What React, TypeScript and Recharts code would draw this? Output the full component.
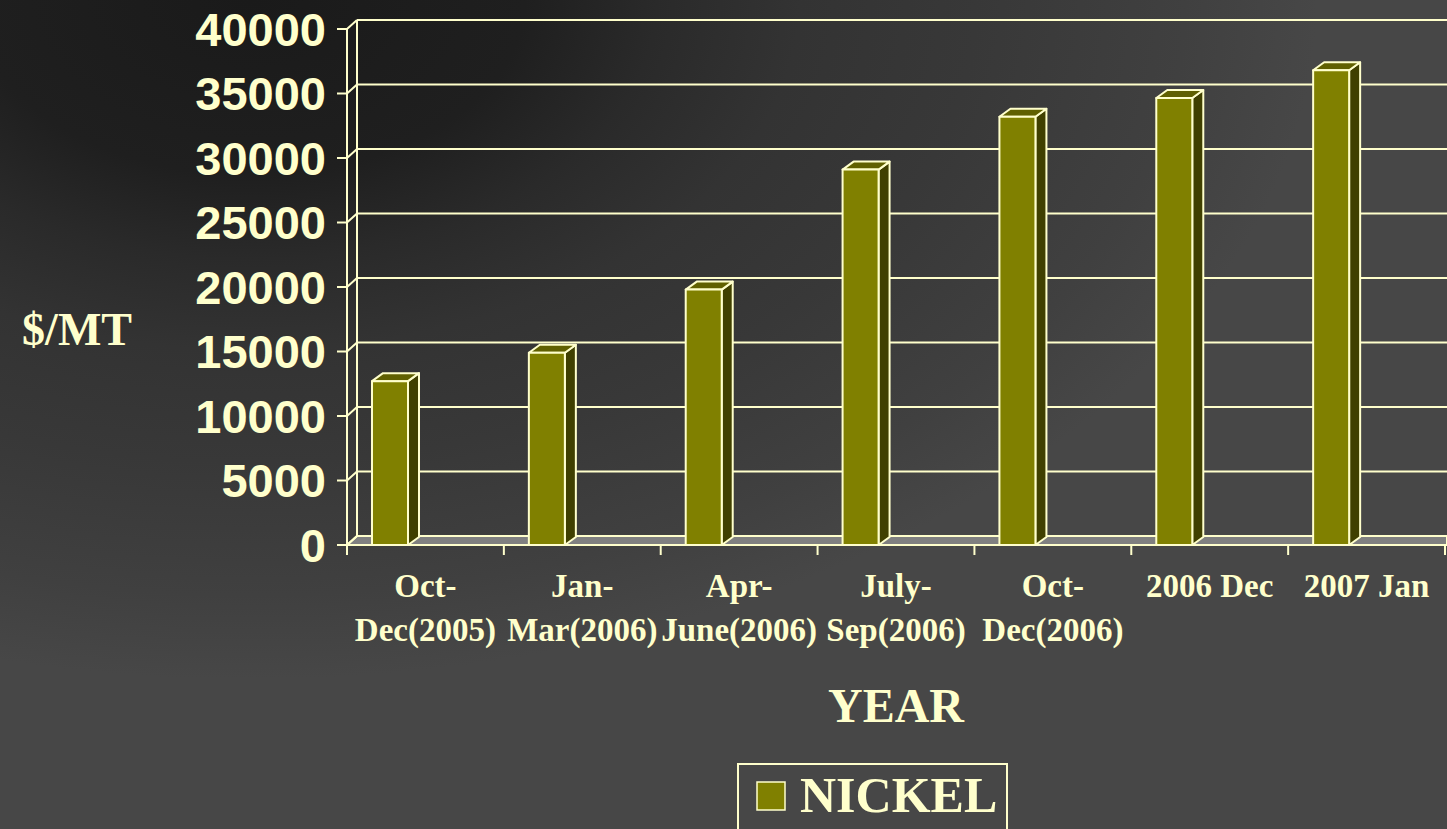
import React from "react";
import { BarChart, Bar, XAxis, YAxis, CartesianGrid, Legend, Label } from "recharts";

// periods on the x axis ("\n" = line break in the tick label)
const periods = [
  "Oct-\nDec(2005)",
  "Jan-\nMar(2006)",
  "Apr-\nJune(2006)",
  "July-\nSep(2006)",
  "Oct-\nDec(2006)",
  "2006 Dec",
  "2007 Jan",
];
const nickelPrices = [12700, 14900, 19800, 29100, 33200, 34650, 36800];
const yTicks = [0, 5000, 10000, 15000, 20000, 25000, 30000, 35000, 40000];

const data = periods.map((p, i) => ({ period: p, NICKEL: nickelPrices[i] }));

const W = 1447;
const H = 829;
const PLOT_LEFT = 347;
const PLOT_TOP = 29;
const PLOT_BOTTOM = 545;
const PLOT_RIGHT = 1445;
const STEP = (PLOT_RIGHT - PLOT_LEFT) / periods.length;
const DX = 10; // 3d depth
const DY = 9;
const CREAM = "#FFFFCC";
const SERIF = "'Liberation Serif', 'Times New Roman', serif";
const SANS = "'Liberation Sans', Arial, sans-serif";

function Bar3D(props: any) {
  const { x, y, width, height } = props;
  const fx = x - 35;
  const r = fx + width;
  const b = y + height;
  return (
    <g stroke={CREAM} strokeWidth={2} strokeLinejoin="round">
      <polygon points={`${r},${y} ${r + 11},${y - 8} ${r + 11},${b - 8} ${r},${b}`} fill="#404000" />
      <polygon points={`${fx},${y} ${fx + 11},${y - 8} ${r + 11},${y - 8} ${r},${y}`} fill="#606000" />
      <rect x={fx} y={y} width={width} height={height} fill="#808000" />
    </g>
  );
}

function gridLine(p: any) {
  const { x1, y1, index } = p;
  const bottom = Math.abs(y1 - PLOT_BOTTOM) < 1;
  const top = Math.abs(y1 - PLOT_TOP) < 1;
  return (
    <g key={`g-${index}`} stroke={CREAM} strokeWidth={2}>
      {bottom && (
        <polygon
          points={`${x1},${y1} ${x1 + DX},${y1 - DY} ${W},${y1 - DY} ${W},${y1}`}
          fill="#808080"
        />
      )}
      <line x1={x1 + DX} y1={y1 - DY} x2={W} y2={y1 - DY} />
      <line x1={x1} y1={y1} x2={x1 + DX} y2={y1 - DY} />
      {top && <line x1={x1 + DX} y1={y1 - DY} x2={x1 + DX} y2={PLOT_BOTTOM - DY} />}
    </g>
  );
}

function XTick(props: any) {
  const { x, payload, index } = props;
  const lines = String(payload.value).split("\n");
  const left = x - STEP / 2;
  return (
    <g>
      <line x1={left} y1={PLOT_BOTTOM} x2={left} y2={PLOT_BOTTOM + 10} stroke={CREAM} strokeWidth={2} />
      {index === periods.length - 1 && (
        <line x1={x + STEP / 2} y1={PLOT_BOTTOM} x2={x + STEP / 2} y2={PLOT_BOTTOM + 10} stroke={CREAM} strokeWidth={2} />
      )}
      <text x={x} y={PLOT_BOTTOM + 52} textAnchor="middle" fill={CREAM} fontFamily={SERIF} fontWeight="bold" fontSize={33}>
        {lines.map((l, i) => (
          <tspan key={i} x={x} dy={i === 0 ? 0 : 44}>
            {l}
          </tspan>
        ))}
      </text>
    </g>
  );
}

function LegendBox(props: any) {
  const item = props.payload && props.payload[0];
  return (
    <svg width={272} height={70}>
      <rect x={1} y={1} width={269} height={80} fill="none" stroke={CREAM} strokeWidth={2} />
      <rect x={20} y={19} width={28} height={28} fill="#808000" stroke={CREAM} strokeWidth={1.5} />
      <text x={63} y={49} fill={CREAM} fontFamily={SERIF} fontWeight="bold" fontSize={50}>
        {item ? item.value : "NICKEL"}
      </text>
    </svg>
  );
}

export default function App() {
  return (
    <div
      style={{
        position: "absolute",
        left: 0,
        top: 0,
        width: W,
        height: H,
        overflow: "hidden",
        background:
          "radial-gradient(ellipse 1100px 700px at 250px 0px, #1a1a1a 0%, #1f1f1f 25%, #2a2a2a 37%, #333333 50%, #383838 66%, #404040 85%, #474747 97%, #474747 100%)",
      }}
    >
      <BarChart
        width={W}
        height={H}
        data={data}
        margin={{ top: PLOT_TOP, right: W - PLOT_RIGHT, bottom: H - PLOT_BOTTOM - 100, left: 0 }}
        barSize={36}
      >
        <CartesianGrid vertical={false} horizontal={gridLine} />
        <XAxis
          dataKey="period"
          height={100}
          interval={0}
          tickLine={false}
          axisLine={{ stroke: CREAM, strokeWidth: 2 }}
          tick={<XTick />}
        >
          <Label
            content={(p: any) => (
              <text
                x={p.viewBox.x + p.viewBox.width / 2}
                y={722}
                textAnchor="middle"
                fill={CREAM}
                fontFamily={SERIF}
                fontWeight="bold"
                fontSize={48}
              >
                YEAR
              </text>
            )}
          />
        </XAxis>
        <YAxis
          width={PLOT_LEFT}
          domain={[0, 40000]}
          ticks={yTicks}
          interval={0}
          tickSize={10}
          tickMargin={11}
          axisLine={{ stroke: CREAM, strokeWidth: 2 }}
          tickLine={{ stroke: CREAM, strokeWidth: 2 }}
          tick={{ fill: CREAM, fontFamily: SANS, fontWeight: "bold", fontSize: 47 }}
        >
          <Label
            content={() => (
              <text x={132} y={345} textAnchor="end" fill={CREAM} fontFamily={SERIF} fontWeight="bold" fontSize={46}>
                $/MT
              </text>
            )}
          />
        </YAxis>
        <Legend
          layout="horizontal"
          verticalAlign="middle"
          align="center"
          wrapperStyle={{ left: 737, top: 763, width: 272 }}
          content={<LegendBox />}
        />
        <Bar dataKey="NICKEL" name="NICKEL" fill="#808000" shape={<Bar3D />} isAnimationActive={false} />
      </BarChart>
    </div>
  );
}
